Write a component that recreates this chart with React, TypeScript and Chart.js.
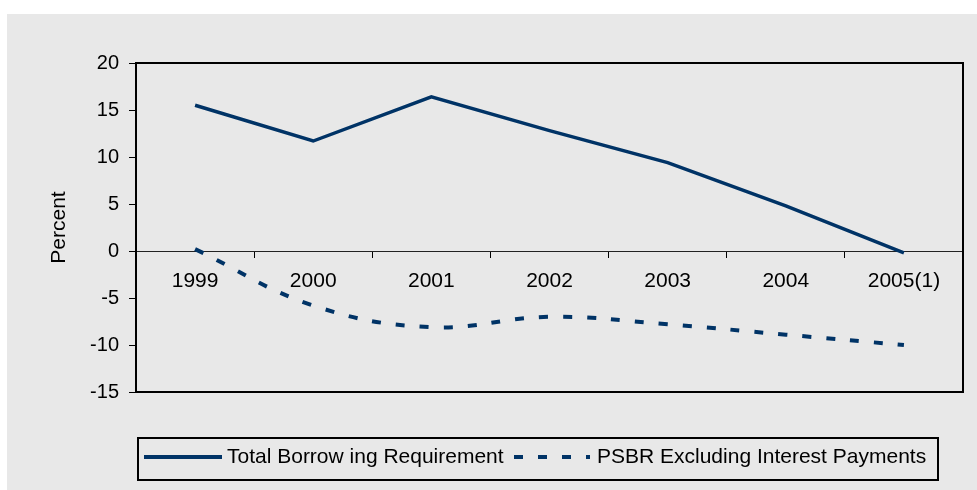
import React, { useEffect, useRef } from "react";
import { Chart, registerables } from "chart.js";

Chart.register(...registerables);

const categories = ["1999", "2000", "2001", "2002", "2003", "2004", "2005(1)"];
const totalBorrowing = [15.5, 11.7, 16.4, 12.8, 9.4, 4.8, -0.2];
const psbrExInterest = [0.2, -5.8, -8.1, -7.0, -7.8, -8.9, -10.0];
const seriesLabels = ["Total Borrow ing Requirement", "PSBR Excluding Interest Payments"];
const yMin = -15;
const yMax = 20;
const yStep = 5;
const yTitle = "Percent";

const NAVY = "#003366";
const BG = "#e8e8e8";
const FONT = "'Liberation Sans', Arial, sans-serif";

const frameAndLegend = {
  id: "frameAndLegend",
  beforeDatasetsDraw(chart: any) {
    const { ctx, chartArea } = chart;
    ctx.save();
    ctx.strokeStyle = "#000";
    ctx.lineWidth = 2;
    ctx.strokeRect(chartArea.left, chartArea.top, chartArea.right - chartArea.left, chartArea.bottom - chartArea.top);
    ctx.restore();
  },
  afterDraw(chart: any) {
    const { ctx } = chart;
    ctx.save();
    ctx.strokeStyle = "#000";
    ctx.lineWidth = 2;
    ctx.strokeRect(131, 424, 800, 42);
    const lineY = 443;
    const baseline = 449;
    ctx.font = `21px ${FONT}`;
    ctx.fillStyle = "#000";
    ctx.textBaseline = "alphabetic";
    ctx.strokeStyle = NAVY;
    ctx.lineWidth = 4;
    ctx.setLineDash([]);
    ctx.beginPath();
    ctx.moveTo(137, lineY);
    ctx.lineTo(215, lineY);
    ctx.stroke();
    ctx.fillText(chart.data.datasets[0].label, 220, baseline);
    ctx.setLineDash([9, 15]);
    ctx.beginPath();
    ctx.moveTo(507, lineY);
    ctx.lineTo(583, lineY);
    ctx.stroke();
    ctx.setLineDash([]);
    ctx.fillText(chart.data.datasets[1].label, 590, baseline);
    ctx.restore();
  },
};

export default function App() {
  const ref = useRef<HTMLCanvasElement>(null);
  useEffect(() => {
    if (!ref.current) return;
    const chart = new Chart(ref.current, {
      type: "line",
      data: {
        labels: categories,
        datasets: [
          {
            label: seriesLabels[0],
            data: totalBorrowing,
            borderColor: NAVY,
            backgroundColor: NAVY,
            borderWidth: 3.5,
            pointRadius: 0,
            tension: 0,
            fill: false,
          },
          {
            label: seriesLabels[1],
            data: psbrExInterest,
            borderColor: NAVY,
            backgroundColor: NAVY,
            borderWidth: 4,
            borderDash: [9, 15],
            borderCapStyle: "butt",
            pointRadius: 0,
            tension: 0.4,
            fill: false,
          },
        ],
      },
      options: {
        responsive: false,
        animation: false,
        layout: { padding: { left: 0, top: 49, right: 14, bottom: 98 } },
        plugins: {
          legend: { display: false },
          tooltip: { enabled: false },
        },
        scales: {
          x: {
            type: "category",
            position: { y: 0 } as any,
            offset: true,
            grid: {
              display: true,
              drawOnChartArea: false,
              drawTicks: true,
              tickLength: 6,
              color: "#000",
              lineWidth: 1,
              offset: true,
            },
            border: { display: true, color: "#222", width: 1 },
            ticks: {
              color: "#000",
              padding: 12,
              maxRotation: 0,
              autoSkip: false,
              font: { family: FONT, size: 21 },
            },
          },
          y: {
            min: yMin,
            max: yMax,
            position: "left",
            afterFit: (s: any) => {
              s.width = 129;
            },
            ticks: {
              stepSize: yStep,
              color: "#000",
              padding: 10,
              font: { family: FONT, size: 20 },
            },
            grid: {
              display: true,
              drawOnChartArea: false,
              drawTicks: true,
              tickLength: 7,
              color: "#000",
              lineWidth: 1,
            },
            border: { display: true, color: "#000", width: 2 },
            title: {
              display: true,
              text: yTitle,
              color: "#000",
              padding: { top: 40, bottom: 0 },
              font: { family: FONT, size: 21 },
            },
          },
        },
      },
      plugins: [frameAndLegend],
    });
    return () => chart.destroy();
  }, []);

  return (
    <div
      style={{
        position: "fixed",
        left: 7,
        top: 14,
        width: 970,
        height: 476,
        background: BG,
      }}
    >
      <canvas ref={ref} width={970} height={476} style={{ width: 970, height: 476, display: "block" }} />
    </div>
  );
}
